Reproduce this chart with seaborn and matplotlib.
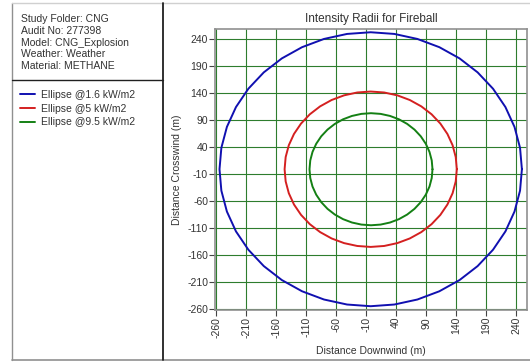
import numpy as np
import pandas as pd
import matplotlib
matplotlib.use('Agg')
import matplotlib.pyplot as plt
import seaborn as sns
from matplotlib.lines import Line2D

# ellipse data
labels = ['Ellipse @1.6 kW/m2', 'Ellipse @5 kW/m2', 'Ellipse @9.5 kW/m2']
center_x = [-2.5, -2.5, -2.0]
center_y = [-1.0, -1.0, -1.0]
radius_x = [252.0, 143.5, 102.5]
radius_y = [253.0, 143.5, 103.5]
colors = ['#1010b0', '#d42020', '#148014']
ticks = list(range(-260, 241, 50))
info_lines = ['Study Folder: CNG', 'Audit No: 277398', 'Model: CNG_Explosion',
              'Weather: Weather', 'Material: METHANE']

N_PTS = 40
rows = []
for lab, cx, cy, rx, ry in zip(labels, center_x, center_y, radius_x, radius_y):
    t = np.linspace(0, 2 * np.pi, N_PTS + 1)
    for i, a in enumerate(t):
        rows.append({'series': lab, 'order': i,
                     'x': cx + rx * np.cos(a), 'y': cy + ry * np.sin(a)})
df = pd.DataFrame(rows)

sns.set_style('white')
plt.rcParams['font.family'] = ['Liberation Sans', 'DejaVu Sans']

W, H = 530, 363
fig = plt.figure(figsize=(W / 100, H / 100), dpi=100)
ax = fig.add_axes([215 / W, (H - 310) / H, 312 / W, 281 / H])

sns.lineplot(data=df, x='x', y='y', hue='series', palette=colors, sort=False,
             estimator=None, units='series', lw=1.4, ax=ax, legend=False)

ax.set_xlim(-262, 258)
ax.set_ylim(-261, 258)
ax.set_xticks(ticks)
ax.set_yticks(ticks)
ax.set_xticklabels([str(v) for v in ticks], rotation=90, fontsize=7.5)
ax.set_yticklabels([str(v) for v in ticks], fontsize=7.5)
ax.tick_params(direction='out', length=4, width=0.8, color='#444444', pad=1,
               labelcolor='#333333', bottom=True, left=True)
ax.grid(True, color='#2e7d2e', lw=0.8)
ax.set_axisbelow(True)
for sp in ax.spines.values():
    sp.set_color('#909090')
    sp.set_linewidth(1.2)

ax.set_title('Intensity Radii for Fireball', fontsize=8.5, color='#333333', pad=5)
ax.set_xlabel('Distance Downwind (m)', fontsize=7.5, color='#333333', labelpad=6)
ax.set_ylabel('Distance Crosswind (m)', fontsize=7.5, color='#333333', labelpad=4)

# left info panel
def px_line(x0, y0, x1, y1, color, lw):
    fig.add_artist(Line2D([x0 / W, x1 / W], [1 - y0 / H, 1 - y1 / H],
                          color=color, lw=lw, transform=fig.transFigure))

px_line(12, 3, 12, 360, '#909090', 1.0)
px_line(12, 3, W, 3, '#d0d0d0', 1.0)
px_line(12, 360, W, 360, '#909090', 1.2)
px_line(162.5, 3, 162.5, 360, '#202020', 1.3)
px_line(12, 80, 162.5, 80, '#202020', 1.0)

for i, txt in enumerate(info_lines):
    fig.text(21 / W, 1 - (19 + i * 11.8) / H, txt, fontsize=7.5, color='#333333',
             va='center', ha='left')

handles = [Line2D([0], [0], color=c, lw=1.4) for c in colors]
fig.legend(handles, labels, loc='upper left', bbox_to_anchor=(18 / W, 1 - 88 / H),
           frameon=False, fontsize=7.5, handlelength=1.4, handletextpad=0.6,
           labelspacing=0.35, borderaxespad=0, borderpad=0.2, labelcolor='#333333')

fig.savefig('out.png', dpi=100)
